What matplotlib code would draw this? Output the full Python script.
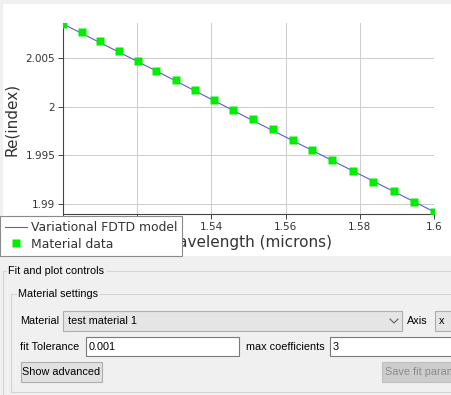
import matplotlib.pyplot as plt
from matplotlib.patches import Rectangle

# Material data
wavelength = [1.5000, 1.5051, 1.5100, 1.5151, 1.5202, 1.5251, 1.5305, 1.5356, 1.5407, 1.5458,
              1.5512, 1.5566, 1.5620, 1.5671, 1.5725, 1.5782, 1.5836, 1.5892, 1.5946, 1.6000]
material_n = [2.0085, 2.0077, 2.0067, 2.0057, 2.0047, 2.0037, 2.0027, 2.0017, 2.0007, 1.9997,
              1.9987, 1.9977, 1.9966, 1.9955, 1.9945, 1.9934, 1.9923, 1.9913, 1.9902, 1.9892]

# Variational FDTD model fit
model_wl = [1.500, 1.525, 1.550, 1.575, 1.600]
model_n = [2.0085, 2.0037, 1.9988, 1.9940, 1.9892]

# the 1.5 and 1.52 labels sit under the legend in the original
x_ticks = [1.50, 1.52, 1.54, 1.56, 1.58, 1.60]
x_tick_labels = ['', '', '1.54', '1.56', '1.58', '1.6']
y_ticks = [1.99, 1.995, 2.0, 2.005]
y_tick_labels = ['1.99', '1.995', '2', '2.005']

W, H = 452, 395
fig = plt.figure(figsize=(W / 100, H / 100), dpi=100)
fig.patch.set_facecolor('#f0f0f0')

# background layer in pixel coordinates (GUI around the plot)
bg = fig.add_axes([0, 0, 1, 1], zorder=0)
bg.set_xlim(0, W)
bg.set_ylim(H, 0)
bg.axis('off')


def box(x0, y0, x1, y1, fc, ec='none'):
    bg.add_patch(Rectangle((x0, y0), x1 - x0, y1 - y0, facecolor=fc,
                           edgecolor=ec, linewidth=0.8))


def gui_text(x, y, s, color='#000000', ha='left'):
    bg.text(x, y, s, ha=ha, va='center', fontsize=7.8, color=color,
            family='Liberation Sans', clip_on=True)


def hline(y, x0, x1, color='#d5d5d5'):
    bg.plot([x0, x1], [y, y], color=color, lw=0.8)


def vline(x, y0, y1, color='#d5d5d5'):
    bg.plot([x, x], [y0, y1], color=color, lw=0.8)


# white plot widget
box(3, 4, W, 256, 'white')

# ---- chart ----
ax = fig.add_axes([63 / W, (H - 214) / H, (434 - 63) / W, (214 - 23) / H], zorder=1)
ax.set_facecolor('white')
ax.plot(model_wl, model_n, color='#5b5bd8', lw=0.8, label='Variational FDTD model', zorder=3)
ax.plot(wavelength, material_n, 's', color='#00ee00', ms=5.3, mec='none',
        label='Material data', zorder=4)
ax.set_xlim(1.5, 1.6)
ax.set_ylim(1.98897, 2.0086)
ax.set_xticks(x_ticks)
ax.set_xticklabels(x_tick_labels)
ax.set_yticks(y_ticks)
ax.set_yticklabels(y_tick_labels)
ax.grid(color='#cccccc', lw=0.7)
ax.set_axisbelow(True)
for s in ['top', 'right']:
    ax.spines[s].set_visible(False)
for s in ['left', 'bottom']:
    ax.spines[s].set_color('#444444')
    ax.spines[s].set_linewidth(0.8)
ax.tick_params(direction='out', length=3.6, width=0.7, color='#444444',
               labelsize=7.5, labelcolor='#333333', pad=2)

ax.text(248, 242, 'Wavelength (microns)', transform=bg.transData, ha='center',
        va='center', fontsize=11, color='#333333', clip_on=False)
ax.text(12, 119, 'Re(index)', transform=bg.transData, ha='center', va='center',
        rotation=90, fontsize=11, color='#333333', clip_on=False)

leg = ax.legend(loc='upper left', bbox_to_anchor=(0, (H - 216) / H),
                bbox_transform=fig.transFigure, frameon=True, fancybox=False,
                edgecolor='#8a8a8a', framealpha=1, fontsize=8.9, borderpad=0.4,
                handlelength=1.75, handletextpad=0.35, labelspacing=0.3,
                borderaxespad=0)
leg.get_frame().set_linewidth(0.8)
for t in leg.get_texts():
    t.set_color('#333333')

# ---- GUI controls ----
# outer group "Fit and plot controls"
hline(271, 3, 6)
hline(271, 107, W)
vline(3, 271, H)
gui_text(8, 270.5, 'Fit and plot controls')

# inner group "Material settings"
hline(294, 11, 16)
hline(294, 100, W)
vline(11, 294, 392)
hline(392, 11, W)
gui_text(18, 294, 'Material settings')

gui_text(20, 321, 'Material')
box(63, 311, 402, 331, '#e5e5e5', '#adadad')
gui_text(68, 321, 'test material 1')
bg.plot([390, 394, 398], [319, 323, 319], color='#606060', lw=0.8)
gui_text(407, 321, 'Axis')
box(435, 311, 460, 331, '#e5e5e5', '#adadad')
gui_text(439, 321, 'x')

gui_text(20, 346.5, 'fit Tolerance')
box(86, 337, 239, 356, 'white', '#7a7a7a')
gui_text(89, 346.5, '0.001')
gui_text(246, 346.5, 'max coefficients')
box(330, 337, 460, 356, 'white', '#7a7a7a')
gui_text(333, 346.5, '3')

box(21, 362, 102, 382, '#e1e1e1', '#adadad')
gui_text(61.5, 372, 'Show advanced', ha='center')
box(382, 362, 460, 382, '#cccccc', '#bfbfbf')
gui_text(385, 372, 'Save fit parameters', color='#8c8c8c')

fig.savefig('out.png', dpi=100, facecolor=fig.get_facecolor())
